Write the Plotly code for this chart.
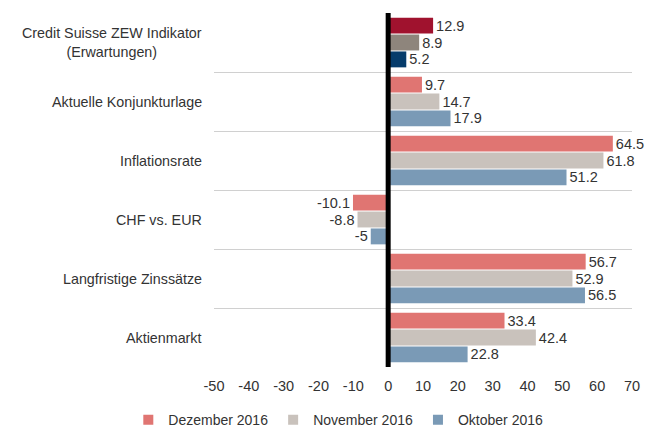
import plotly.graph_objects as go

categories = ["Credit Suisse ZEW Indikator<br>(Erwartungen)", "Aktuelle Konjunkturlage",
              "Inflationsrate", "CHF vs. EUR", "Langfristige Zinssätze", "Aktienmarkt"]
series_names = ["Dezember 2016", "November 2016", "Oktober 2016"]
dez = [12.9, 9.7, 64.5, -10.1, 56.7, 33.4]
nov = [8.9, 14.7, 61.8, -8.8, 52.9, 42.4]
okt = [5.2, 17.9, 51.2, -5, 56.5, 22.8]
values = [dez, nov, okt]
normal_colors = ["#E07572", "#C9C2BC", "#7A9AB6"]
highlight_colors = ["#A0122E", "#8E857C", "#063C6B"]
x_ticks = list(range(-50, 71, 10))
x_tick_labels = [str(t) for t in x_ticks]  # plain hyphen minus

FONT = "Liberation Sans, Arial, sans-serif"

fig = go.Figure()
for name, vals, nc, hc in zip(series_names, values, normal_colors, highlight_colors):
    colors = [hc] + [nc] * (len(vals) - 1)
    fig.add_trace(go.Bar(
        y=categories, x=vals, name=name, orientation="h", legendgroup=name,
        marker=dict(color=colors, line=dict(width=0)),
        text=[f"{v:g}" for v in vals], textposition="outside",
        constraintext="none",
        textfont=dict(size=14.5, color="#333333", family=FONT), cliponaxis=False,
        showlegend=False,
    ))
    # legend entry with the regular series colour
    fig.add_trace(go.Scatter(
        x=[None], y=[None], mode="markers", name=name, legendgroup=name,
        marker=dict(symbol="square", size=10, color=nc), showlegend=True,
    ))

annotations = []
for c in categories:
    annotations.append(dict(
        x=-0.025, xref="paper", y=c, yref="y", text=c, showarrow=False,
        xanchor="right", yanchor="middle", align="center",
        font=dict(size=14.3, color="#333333", family=FONT)))

fig.update_layout(
    width=665, height=429,
    margin=dict(l=206, r=41, t=5, b=70, autoexpand=False),
    paper_bgcolor="white", plot_bgcolor="white",
    barmode="group", bargap=0.14, bargroupgap=0.06,
    font=dict(family=FONT, color="#333333"),
    xaxis=dict(range=[-50, 70], tickvals=x_ticks, ticktext=x_tick_labels,
               showgrid=False, zeroline=False, automargin=False,
               tickfont=dict(size=14.5, color="#333333"), ticks="", ticklabelstandoff=8,
               fixedrange=True),
    yaxis=dict(autorange="reversed", tickson="boundaries", showgrid=True, automargin=False,
               gridcolor="#D0D0D0", gridwidth=1, showticklabels=False, ticks="",
               showline=False, zeroline=False),
    legend=dict(orientation="h", xref="paper", yref="paper",
                x=-0.205, xanchor="left", y=-0.15, yanchor="middle",
                font=dict(size=14, color="#333333", family=FONT), itemwidth=30,
                tracegroupgap=0),
    annotations=annotations,
    shapes=[dict(type="line", x0=0, x1=0, xref="x", y0=0, y1=1, yref="paper",
                 line=dict(color="black", width=5), layer="above")],
)

fig.write_html("out.html")
